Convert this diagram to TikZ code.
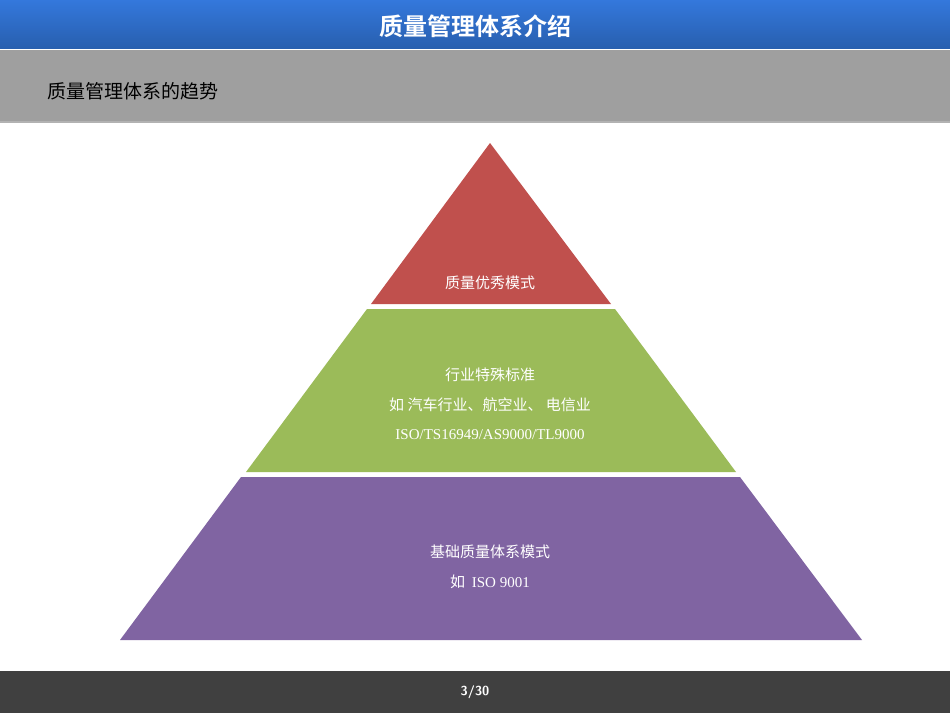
\documentclass[tikz,border=0pt]{standalone}
\usepackage{fontspec}
\setmainfont{Liberation Serif}
\newfontfamily\cjk{Noto Sans CJK SC}
\newfontfamily\cjkb{Noto Sans CJK SC Bold}
\usetikzlibrary{shadows}
\definecolor{hblue}{RGB}{52,120,220}
\definecolor{hblue2}{RGB}{40,95,175}
\definecolor{pred}{RGB}{192,80,77}
\definecolor{pgreen}{RGB}{155,187,89}
\definecolor{ppurple}{RGB}{128,100,162}
\definecolor{foot}{RGB}{64,64,64}
\tikzset{lbl/.style={text=white,font=\cjk\fontsize{15}{18}\selectfont,align=center,inner sep=0}}
\begin{document}
\begin{tikzpicture}[x=1pt,y=-1pt]
\useasboundingbox (0,0) rectangle (950,713);
\fill[white] (0,0) rectangle (950,713);
\fill[gray!60] (0,50) rectangle (950,123);
\fill[gray!75] (0,50) rectangle (950,121);
\fill[top color=hblue,bottom color=hblue2] (0,0) rectangle (950,48);
\node[text=white,font=\cjkb\fontsize{24}{28}\selectfont] (title) at (475,26) {质量管理体系介绍};
\node[anchor=west,font=\cjk\fontsize{19}{22}\selectfont] (sub) at (44,91) {质量管理体系的趋势};
\fill[pred] (490,143) -- (611,304) -- (371,304) -- cycle;
\fill[pgreen] (367,309) -- (615,309) -- (736,472) -- (246,472) -- cycle;
\fill[ppurple] (241,477) -- (740,477) -- (862,640) -- (120,640) -- cycle;
\node[lbl] (t1) at (490,283) {质量优秀模式};
\node[lbl] (t2a) at (490,375) {行业特殊标准};
\node[lbl] (t2b) at (490,405) {如 汽车行业、航空业、 电信业};
\node[lbl,font=\fontsize{15}{18}\selectfont] (t2c) at (490,435) {ISO/TS16949/AS9000/TL9000};
\node[lbl] (t3a) at (490,552) {基础质量体系模式};
\node[lbl] (t3b) at (490,582) {如\ \ \rmfamily ISO 9001};
\fill[foot] (0,671) rectangle (950,713);
\node[text=white,font=\sffamily\bfseries\fontsize{13}{15}\selectfont] (pg) at (475,692) {3/30};
\end{tikzpicture}
\end{document}
